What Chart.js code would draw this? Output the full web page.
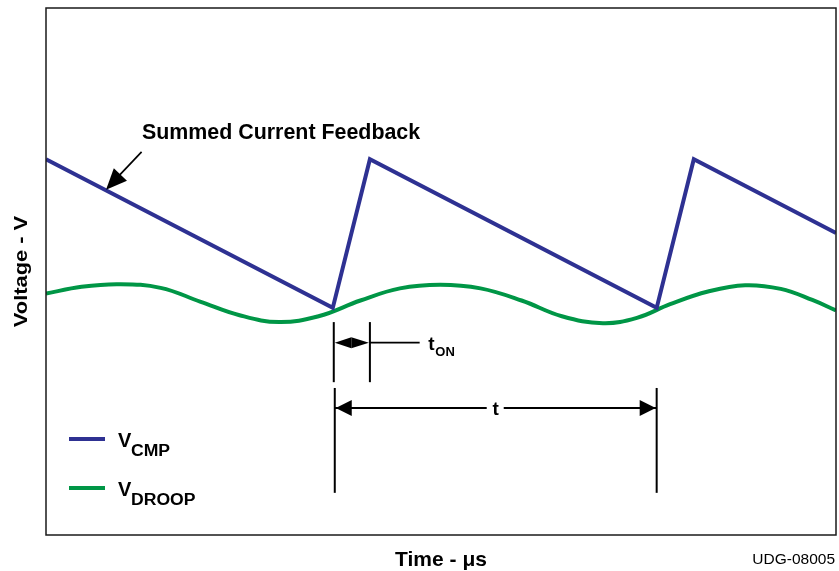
<!DOCTYPE html>
<html>
<head>
<meta charset="utf-8">
<title>VCMP e VDROOP</title>
<script src="https://cdn.jsdelivr.net/npm/chart.js@4.4.1/dist/chart.umd.min.js"></script>
<style>
    body { margin: 0; background: #fff; }
    #wrap { width: 839px; height: 571px; }
</style>
</head>
<body>
<div id="wrap"><canvas id="grafico"></canvas></div>
<script>
// eixo de tempo e de tensão em unidades arbitrárias (0 a 10)
var tempoCmp = [0, 3.63, 4.10, 7.73, 8.20, 10];
var tensaoCmp = [7.13, 4.31, 7.13, 4.31, 7.13, 5.73];

var tempoDroop = [0, 0.45, 0.92, 1.45, 1.95, 2.45, 2.95, 3.45, 3.98, 4.48, 4.99, 5.50, 6.02, 6.53, 7.05, 7.48, 7.90, 8.38, 8.85, 9.30, 9.70, 10];
var tensaoDroop = [4.58, 4.71, 4.76, 4.69, 4.43, 4.17, 4.04, 4.15, 4.45, 4.68, 4.75, 4.68, 4.45, 4.15, 4.02, 4.12, 4.38, 4.62, 4.74, 4.67, 4.46, 4.26];

var nomesSeries = ['CMP', 'DROOP'];

var AZUL = '#2E3192';
var VERDE = '#009646';
var FONTE = '"Liberation Sans", Arial, sans-serif';

function pontos(xs, ys) {
    return xs.map((x, i) => ({ x: x, y: ys[i] }));
}

function texto(ctx, str, x, y, tam, opts) {
    opts = opts || {};
    ctx.save();
    ctx.font = (opts.peso || 'bold') + ' ' + tam + 'px ' + FONTE;
    ctx.translate(x, y);
    if (opts.rot) ctx.rotate(opts.rot);
    ctx.scale(opts.esticar || 1, 1);
    ctx.textAlign = opts.alinhar || 'left';
    ctx.textBaseline = 'alphabetic';
    ctx.fillStyle = '#000';
    ctx.fillText(str, 0, 0);
    ctx.restore();
}

function seta(ctx, x1, y1, x2, y2, comp, meia) {
    // ponta em (x2, y2)
    var ang = Math.atan2(y2 - y1, x2 - x1);
    ctx.beginPath();
    ctx.moveTo(x2, y2);
    ctx.lineTo(x2 - comp * Math.cos(ang) + meia * Math.sin(ang), y2 - comp * Math.sin(ang) - meia * Math.cos(ang));
    ctx.lineTo(x2 - comp * Math.cos(ang) - meia * Math.sin(ang), y2 - comp * Math.sin(ang) + meia * Math.cos(ang));
    ctx.closePath();
    ctx.fill();
}

function linha(ctx, x1, y1, x2, y2) {
    ctx.beginPath();
    ctx.moveTo(x1, y1);
    ctx.lineTo(x2, y2);
    ctx.stroke();
}

const anotacoes = {
    id: 'anotacoes',
    afterDraw(chart) {
        const ctx = chart.ctx;
        const a = chart.chartArea;
        const sx = chart.scales.x;
        const sy = chart.scales.y;
        ctx.save();

        // moldura
        ctx.strokeStyle = '#1a1a1a';
        ctx.lineWidth = 1.5;
        ctx.strokeRect(a.left, a.top, a.right - a.left, a.bottom - a.top);

        ctx.strokeStyle = '#000';
        ctx.fillStyle = '#000';

        // Summed Current Feedback
        texto(ctx, 'Summed Current Feedback', sx.getPixelForValue(1.215), sy.getPixelForValue(7.51), 21.4);
        ctx.lineWidth = 1.7;
        var pxA = sx.getPixelForValue(1.21), pyA = sy.getPixelForValue(7.27);
        var pxB = sx.getPixelForValue(0.76), pyB = sy.getPixelForValue(6.55);
        linha(ctx, pxA, pyA, pxB + 9, pyB - 10);
        seta(ctx, pxA, pyA, pxB, pyB, 21, 9);

        // t_ON
        var x0 = sx.getPixelForValue(tempoCmp[1]);
        var x1 = sx.getPixelForValue(tempoCmp[2]);
        ctx.lineWidth = 2;
        linha(ctx, x0 + 1, sy.getPixelForValue(4.04), x0 + 1, sy.getPixelForValue(2.90));
        linha(ctx, x1, sy.getPixelForValue(4.04), x1, sy.getPixelForValue(2.90));
        var yOn = sy.getPixelForValue(3.65);
        var meio = (x0 + x1) / 2;
        seta(ctx, meio, yOn, x0 + 2, yOn, meio - x0 - 2, 5.5);
        seta(ctx, meio, yOn, x1 - 1, yOn, x1 - meio - 1, 5.5);
        ctx.lineWidth = 1.8;
        linha(ctx, x1, yOn, sx.getPixelForValue(4.73), yOn);
        var xt = sx.getPixelForValue(4.84);
        texto(ctx, 't', xt, yOn + 7, 19);
        texto(ctx, 'ON', xt + 7, yOn + 13, 13);

        // período t
        var p0 = sx.getPixelForValue(tempoCmp[1]) + 2;
        var p1 = sx.getPixelForValue(tempoCmp[3]);
        ctx.lineWidth = 2;
        linha(ctx, p0, sy.getPixelForValue(2.79), p0, sy.getPixelForValue(0.80));
        linha(ctx, p1, sy.getPixelForValue(2.79), p1, sy.getPixelForValue(0.80));
        var yP = sy.getPixelForValue(2.41);
        var pm = (p0 + p1) / 2;
        ctx.lineWidth = 1.8;
        linha(ctx, p0, yP, pm - 9, yP);
        linha(ctx, pm + 8, yP, p1, yP);
        seta(ctx, pm, yP, p0 + 1, yP, 16, 8);
        seta(ctx, pm, yP, p1 - 1, yP, 16, 8);
        texto(ctx, 't', pm, yP + 7, 19, { alinhar: 'center' });

        // legenda
        var cores = [AZUL, VERDE];
        var linhasY = [a.top + 431, a.top + 480];
        ctx.lineWidth = 4;
        for (var i = 0; i < nomesSeries.length; i++) {
            ctx.strokeStyle = cores[i];
            linha(ctx, a.left + 23, linhasY[i], a.left + 59, linhasY[i]);
            texto(ctx, 'V', a.left + 72, linhasY[i] + 8, 20);
            texto(ctx, nomesSeries[i], a.left + 85, linhasY[i] + 17, 16, { esticar: 1.1 });
        }

        // títulos dos eixos
        texto(ctx, 'Time - \u03bcs', (a.left + a.right) / 2, a.bottom + 31, 21, { alinhar: 'center' });
        texto(ctx, 'Voltage - V', 27, (a.top + a.bottom) / 2, 19, { alinhar: 'center', rot: -Math.PI / 2, esticar: 1.15 });
        texto(ctx, 'UDG-08005', a.right - 1, a.bottom + 29, 15.5, { alinhar: 'right', peso: 'normal' });

        ctx.restore();
    }
};

var ctx = document.getElementById('grafico').getContext('2d');
var chart = new Chart(ctx, {
    type: 'line',
    data: {
        datasets: [{
            label: 'VCMP',
            data: pontos(tempoCmp, tensaoCmp),
            borderColor: AZUL,
            borderWidth: 4,
            borderJoinStyle: 'miter',
            pointRadius: 0,
            tension: 0,
            fill: false
        },
        {
            label: 'VDROOP',
            data: pontos(tempoDroop, tensaoDroop),
            borderColor: VERDE,
            borderWidth: 4,
            pointRadius: 0,
            tension: 0.4,
            fill: false
        }]
    },
    options: {
        responsive: true,
        maintainAspectRatio: false,
        animation: false,
        layout: {
            padding: { left: 46, top: 8, right: 3, bottom: 36 }
        },
        scales: {
            x: { type: 'linear', min: 0, max: 10, display: false },
            y: { type: 'linear', min: 0, max: 10, display: false }
        },
        plugins: {
            legend: { display: false },
            tooltip: { enabled: false }
        }
    },
    plugins: [anotacoes]
});
</script>
</body>
</html>
